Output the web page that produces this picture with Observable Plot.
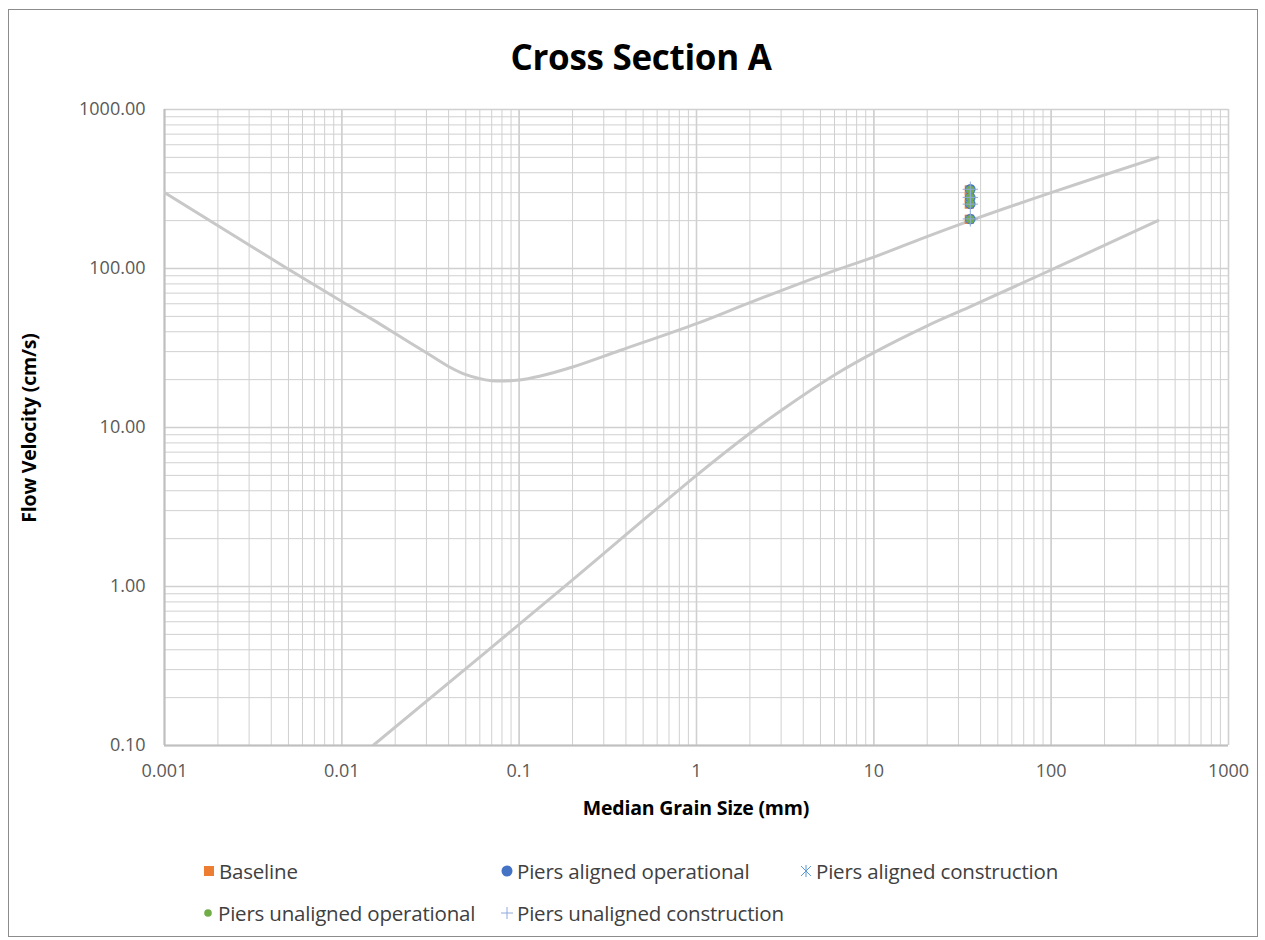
<!DOCTYPE html>
<html>
<head>
<meta charset="utf-8">
<script src="https://cdn.jsdelivr.net/npm/d3@7"></script>
<script src="https://cdn.jsdelivr.net/npm/@observablehq/plot@0.6"></script>
<style>
  html, body { margin: 0; padding: 0; background: #fff; }
  #wrap { position: relative; width: 1265px; height: 940px; font-family: "Open Sans", "Noto Sans", sans-serif; overflow: hidden; }
  #frame { position: absolute; left: 8px; top: 9px; width: 1250px; height: 928px; border: 1px solid #8c8c8c; box-sizing: border-box; }
  #title { position: absolute; left: 0; width: 1282px; top: 35px; text-align: center; font-weight: 700; font-size: 35px; color: #000; line-height: 44px; letter-spacing: -0.3px; }
  #chart { position: absolute; left: 0; top: 90px; }
  #xlabel { position: absolute; left: 164px; width: 1064px; top: 795px; text-align: center; font-weight: 700; font-size: 19.5px; color: #000; line-height: 26px; letter-spacing: -0.2px; }
  #ylabel { position: absolute; left: 29px; top: 428px; transform: translate(-50%, -50%) rotate(-90deg); white-space: nowrap; font-weight: 700; font-size: 19.5px; color: #000; line-height: 26px; letter-spacing: -0.2px; }
  .leg { position: absolute; display: flex; align-items: center; font-size: 20.5px; color: #404040; white-space: nowrap; letter-spacing: -0.2px; }
  .leg svg { margin-right: 3px; }
</style>
</head>
<body>
<div id="wrap">
  <div id="frame"></div>
  <div id="title">Cross Section A</div>
  <div id="chart"></div>
  <div id="xlabel">Median Grain Size (mm)</div>
  <div id="ylabel">Flow Velocity (cm/s)</div>
  <div id="legend"></div>
</div>
<script>
// ---- data ----
// Upper curve (erosion threshold)
const upperSize = [0.001, 0.005, 0.01, 0.015, 0.02, 0.03, 0.04, 0.05, 0.07, 0.1, 0.13, 0.2, 0.37, 1, 2, 6, 10, 18, 35, 100, 400];
const upperVel  = [300, 99, 62, 47.5, 39, 29.5, 24.2, 21.5, 19.7, 19.9, 21, 24, 30.5, 45, 61, 97, 118, 152, 200, 300, 500];
// Lower curve (deposition threshold)
const lowerSize = [0.015, 0.2, 1, 2, 3, 6, 10, 20, 35, 100, 400];
const lowerVel  = [0.1, 1.1, 5, 9.2, 12.8, 21.4, 29.6, 43.6, 57.5, 98, 200];

// Scenario points (median grain size 35 mm)
const pointSize = [35, 35, 35, 35];
const baseline       = [312, 278, 254, 204];
const alignedOp      = [315, 280, 255, 205];
const alignedCon     = [314, 279, 256, 205];
const unalignedOp    = [313, 281, 255, 204];
const unalignedCon   = [315, 280, 254, 205];

const seriesNames = ["Baseline", "Piers aligned operational", "Piers aligned construction", "Piers unaligned operational", "Piers unaligned construction"];
const seriesColors = ["#ED7D31", "#4472C4", "#5B9BD5", "#70AD47", "#8FAADC"];

// tick labels
const xTickValues = [0.001, 0.01, 0.1, 1, 10, 100, 1000];
const xTickLabels = ["0.001", "0.01", "0.1", "1", "10", "100", "1000"];
const yTickValues = [0.1, 1, 10, 100, 1000];
const yTickLabels = ["0.10", "1.00", "10.00", "100.00", "1000.00"];

// ---- build ----
const minorX = [];
for (let e = -3; e <= 2; e++) for (let k = 1; k <= 9; k++) minorX.push(+(k * Math.pow(10, e)).toPrecision(3));
minorX.push(1000);
const minorY = [];
for (let e = -1; e <= 2; e++) for (let k = 1; k <= 9; k++) minorY.push(+(k * Math.pow(10, e)).toPrecision(3));
minorY.push(1000);

const upper = upperSize.map((x, i) => ({x, y: upperVel[i]}));
const lower = lowerSize.map((x, i) => ({x, y: lowerVel[i]}));
const pts = (arr) => pointSize.map((x, i) => ({x, y: arr[i]}));

const xFmt = new Map(xTickValues.map((v, i) => [v, xTickLabels[i]]));
const yFmt = new Map(yTickValues.map((v, i) => [v, yTickLabels[i]]));

const gridColor = "#d0d0d0";
const curveColor = "#c8c8c8";

const plot = Plot.plot({
  width: 1265,
  height: 740,
  marginTop: 19,
  marginBottom: 85,
  marginLeft: 164,
  marginRight: 37,
  x: {type: "log", domain: [0.001, 1000]},
  y: {type: "log", domain: [0.1, 1000]},
  style: {fontFamily: "'Open Sans', 'Noto Sans', sans-serif", fontSize: "18px", color: "#595959", background: "transparent"},
  marks: [
    Plot.ruleX(minorX, {stroke: gridColor, strokeWidth: 1}),
    Plot.ruleY(minorY, {stroke: gridColor, strokeWidth: 1}),
    Plot.ruleX(xTickValues, {stroke: gridColor, strokeWidth: 1.6}),
    Plot.ruleY(yTickValues, {stroke: gridColor, strokeWidth: 1.6}),
    Plot.ruleX([0.001], {stroke: "#bfbfbf", strokeWidth: 2}),
    Plot.ruleY([0.1], {stroke: "#bfbfbf", strokeWidth: 2}),
    Plot.axisX({ticks: xTickValues, tickSize: 0, tickPadding: 19, tickFormat: d => xFmt.get(d), label: null, fill: "#595959"}),
    Plot.axisY({ticks: yTickValues, tickSize: 0, tickPadding: 19, tickFormat: d => yFmt.get(d), label: null, fill: "#595959"}),
    Plot.line(upper, {x: "x", y: "y", stroke: curveColor, strokeWidth: 3, curve: "catmull-rom", clip: true}),
    Plot.line(lower, {x: "x", y: "y", stroke: curveColor, strokeWidth: 3, curve: "catmull-rom", clip: true}),
    Plot.dot(pts(baseline), {x: "x", y: "y", symbol: "square", r: 5.2, fill: seriesColors[0], stroke: "none", dx: -1}),
    Plot.dot(pts(alignedOp), {x: "x", y: "y", symbol: "circle", r: 5.3, fill: seriesColors[1], stroke: "none"}),
    Plot.dot(pts(alignedCon), {x: "x", y: "y", symbol: "asterisk", r: 5, stroke: seriesColors[2], strokeWidth: 1, fill: "none"}),
    Plot.dot(pts(unalignedOp), {x: "x", y: "y", symbol: "circle", r: 4.2, fill: seriesColors[3], stroke: "none"}),
    Plot.dot(pts(unalignedCon), {x: "x", y: "y", symbol: "plus", r: 5, stroke: seriesColors[4], strokeWidth: 1, fill: "none"})
  ]
});
document.getElementById("chart").appendChild(plot);

// ---- legend ----
const legendPos = [
  {left: 202, top: 857},
  {left: 500, top: 857},
  {left: 799, top: 857},
  {left: 201, top: 899},
  {left: 500, top: 899}
];
const swatch = [
  c => `<svg width="14" height="14"><rect x="2" y="2" width="10" height="10" fill="${c}"/></svg>`,
  c => `<svg width="14" height="14"><circle cx="7" cy="7" r="5.5" fill="${c}"/></svg>`,
  c => `<svg width="14" height="14"><path d="M2,2L12,12M12,2L2,12M7,1L7,13" stroke="${c}" stroke-width="1" fill="none"/></svg>`,
  c => `<svg width="14" height="14"><circle cx="7" cy="7" r="3.8" fill="${c}"/></svg>`,
  c => `<svg width="14" height="14"><path d="M1,7L13,7M7,1L7,13" stroke="${c}" stroke-width="1" fill="none"/></svg>`
];
const legend = document.getElementById("legend");
seriesNames.forEach((name, i) => {
  const d = document.createElement("div");
  d.className = "leg";
  d.style.left = legendPos[i].left + "px";
  d.style.top = legendPos[i].top + "px";
  d.innerHTML = swatch[i](seriesColors[i]) + `<span>${name}</span>`;
  legend.appendChild(d);
});
</script>
</body>
</html>
